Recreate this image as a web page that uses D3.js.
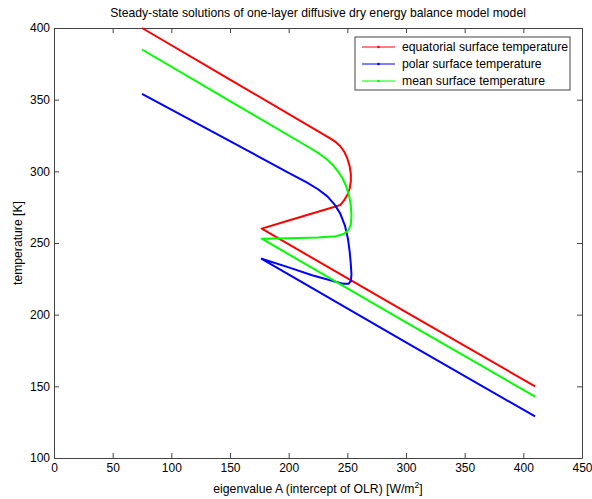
<!DOCTYPE html>
<html lang="en">
<head>
  <meta charset='utf-8'>
  <title>Steady-state EBM</title>
  <style>
    body { margin: 0; background: #fff; }
    svg { background-color: #fff; font-family: "Liberation Sans", Arial, sans-serif; }
    .frame line, .frame path { stroke: #444; }
    .frame text { fill: #000; font-size: 12px; }
  </style>
</head>
<body>

  <div id="ebm_plot"></div>

<script src="https://cdn.jsdelivr.net/npm/d3@7"></script>
<script>

  ////////////////////////////////////////////////// DATA (A [W/m2], T [K])

  var equatorialA = [75, 150, 235, 240, 244, 247.5, 250, 252, 253, 253, 252, 250, 247, 244, 235, 220, 200, 177, 300, 410];
  var equatorialT = [400, 364, 323.2, 320.5, 317.5, 313.5, 309, 303.5, 298, 293, 288, 283.5, 279.5, 276.5, 274.3, 270.6, 265.7, 260, 201.7, 150];

  var polarA = [75, 150, 200, 215, 225, 233, 239, 244, 248, 250.5, 252, 253, 253.5, 253, 251, 247, 240, 220, 200, 177, 300, 410];
  var polarT = [354, 321, 299, 292.5, 287.5, 282.5, 277, 270.5, 262, 253, 244, 235, 228, 223.5, 221.5, 221.5, 223, 227.5, 233, 239, 180.7, 129];

  var meanA = [75, 150, 220, 226, 232, 237, 242, 246, 249, 251.5, 253, 253.5, 253, 251, 247, 240, 225, 200, 177, 300, 410];
  var meanT = [385, 349, 315.4, 312.3, 308.8, 305, 300, 295, 289.5, 283, 276, 269, 263, 259, 256.3, 254.7, 253.8, 253.3, 253, 194.7, 142.8];

  var seriesNames = ["equatorial surface temperature", "polar surface temperature", "mean surface temperature"];
  var seriesColors = ["#ff0000", "#0000ff", "#00ff00"];

  var xTicks = [0, 50, 100, 150, 200, 250, 300, 350, 400, 450];
  var yTicks = [100, 150, 200, 250, 300, 350, 400];

  ////////////////////////////////////////////////// INIT VARS

  var width = 592, height = 499;
  var margin = {top: 28, right: 10, bottom: 41, left: 54};
  var plotWidth = width - margin.left - margin.right;
  var plotHeight = height - margin.top - margin.bottom;
  var fontSize = "12.2px";

  ////////////////////////////////////////////////// SETUP

  var svg = d3.select("#ebm_plot").append("svg")
    .attr("width", width)
    .attr("height", height);

  var g = svg.append("g")
    .attr("transform", "translate(" + margin.left + "," + margin.top + ")");

  var x = d3.scaleLinear().domain([0, 450]).range([0, plotWidth]);
  var y = d3.scaleLinear().domain([100, 400]).range([plotHeight, 0]);

  // axes, ticks pointing inward (matlab style)
  g.append("g").attr("class", "frame")
    .attr("transform", "translate(0," + plotHeight + ")")
    .call(d3.axisBottom(x).tickValues(xTicks).tickSize(-5).tickSizeOuter(0).tickPadding(5));
  g.append("g").attr("class", "frame")
    .call(d3.axisTop(x).tickValues(xTicks).tickSize(-5).tickSizeOuter(0).tickFormat(""));
  g.append("g").attr("class", "frame")
    .call(d3.axisLeft(y).tickValues(yTicks).tickSize(-5).tickSizeOuter(0).tickPadding(4));
  g.append("g").attr("class", "frame")
    .attr("transform", "translate(" + plotWidth + ",0)")
    .call(d3.axisRight(y).tickValues(yTicks).tickSize(-5).tickSizeOuter(0).tickFormat(""));

  // series
  var series = [
    {A: equatorialA, T: equatorialT},
    {A: polarA, T: polarT},
    {A: meanA, T: meanT}
  ];

  var line = d3.line()
    .x(function(d) { return x(d[0]); })
    .y(function(d) { return y(d[1]); })
    .curve(d3.curveLinear);

  series.forEach(function(s, i) {
    var pts = s.A.map(function(a, j) { return [a, s.T[j]]; });
    g.append("path")
      .datum(pts)
      .attr("fill", "none")
      .attr("stroke", seriesColors[i])
      .attr("stroke-width", 2)
      .attr("stroke-linejoin", "round")
      .attr("d", line);
  });

  // title + labels
  svg.append("text")
    .attr("x", margin.left + plotWidth / 2).attr("y", 17)
    .attr("text-anchor", "middle").attr("font-size", fontSize)
    .text("Steady-state solutions of one-layer diffusive dry energy balance model model");

  var xl = svg.append("text")
    .attr("x", margin.left + plotWidth / 2).attr("y", 493)
    .attr("text-anchor", "middle").attr("font-size", fontSize);
  xl.append("tspan").text("eigenvalue A (intercept of OLR) [W/m");
  xl.append("tspan").attr("dy", -5).attr("font-size", "8.5px").text("2");
  xl.append("tspan").attr("dy", 5).text("]");

  svg.append("text")
    .attr("transform", "translate(22," + (margin.top + plotHeight / 2) + ") rotate(-90)")
    .attr("text-anchor", "middle").attr("font-size", fontSize)
    .text("temperature [K]");

  // legend
  var legend = svg.append("g").attr("transform", "translate(355,37)");
  legend.append("rect")
    .attr("width", 215).attr("height", 53)
    .attr("fill", "#fff").attr("stroke", "#444");
  seriesNames.forEach(function(name, i) {
    var row = legend.append("g").attr("transform", "translate(0," + (10 + i * 17) + ")");
    row.append("line")
      .attr("x1", 7).attr("x2", 40)
      .attr("stroke", seriesColors[i]).attr("stroke-width", 1);
    row.append("circle")
      .attr("cx", 23.5).attr("r", 1.3).attr("fill", seriesColors[i]);
    row.append("text")
      .attr("x", 47).attr("dy", "0.35em").attr("font-size", fontSize)
      .text(name);
  });

</script>
</body>
</html>
